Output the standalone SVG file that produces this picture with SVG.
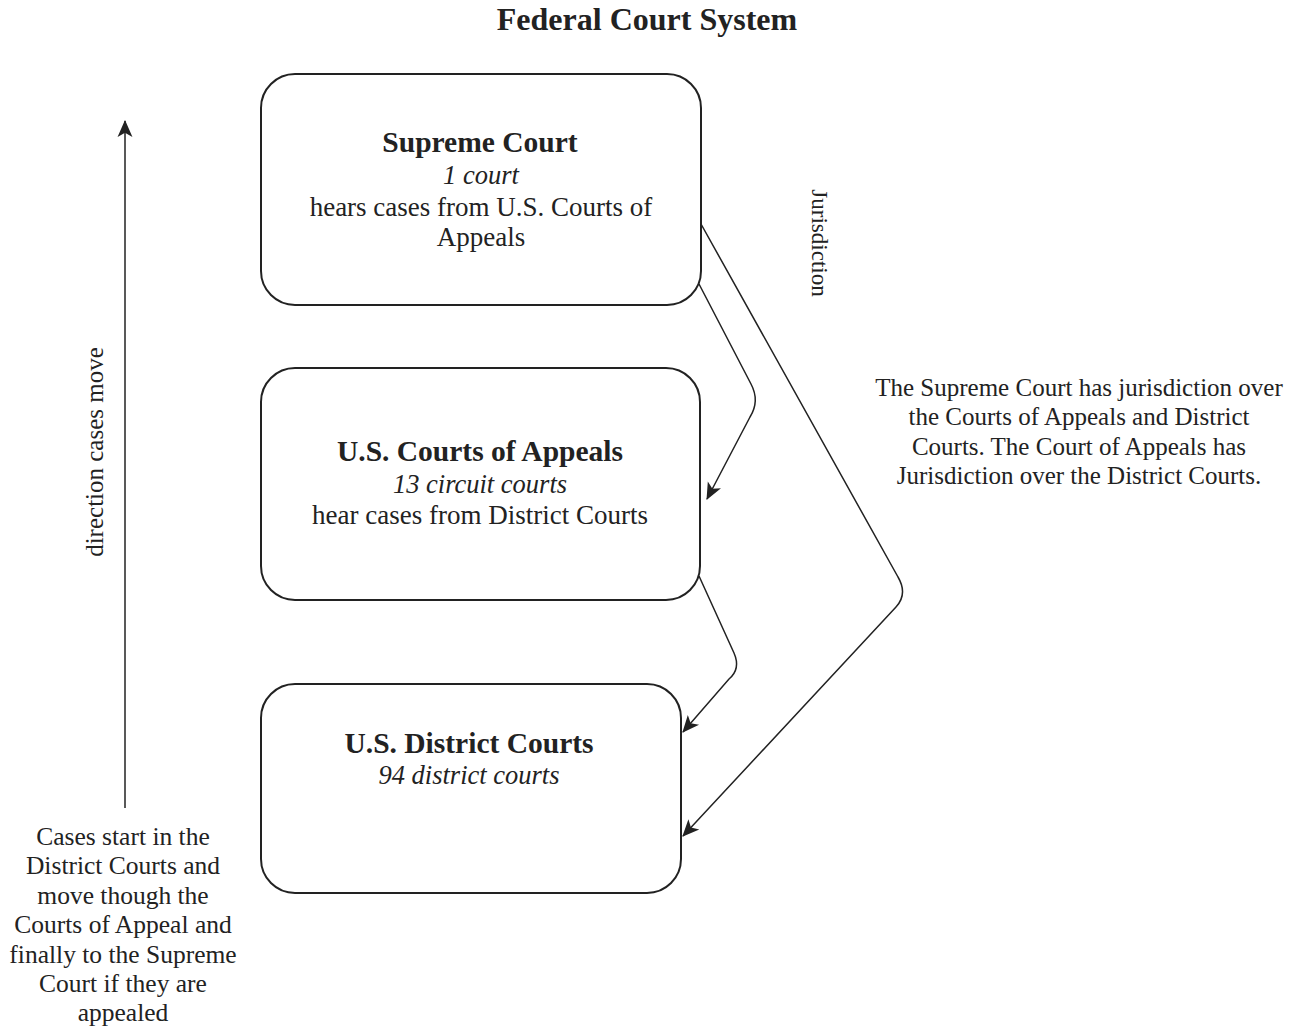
<svg xmlns="http://www.w3.org/2000/svg" width="1296" height="1029" viewBox="0 0 1296 1029">
<style>
text{font-family:"Liberation Serif","Times New Roman",serif;fill:#222;}
.box{fill:#fff;stroke:#222;stroke-width:2;}
.conn{fill:none;stroke:#222;stroke-width:1.5;}
.t{font-size:27px;text-anchor:middle;}
.b{font-size:29.5px;font-weight:bold;text-anchor:middle;}
.i{font-size:26.5px;font-style:italic;text-anchor:middle;}
.n{font-size:25px;text-anchor:middle;}
.l{font-size:25.5px;text-anchor:middle;}
</style>
<defs>
<marker id="ah2" viewBox="0 0 16 16" refX="15" refY="8" markerWidth="17" markerHeight="17" markerUnits="userSpaceOnUse" orient="auto">
<path d="M0,1 L16,8 L0,15 L4,8 Z" fill="#222"/>
</marker>
</defs>
<rect width="1296" height="1029" fill="#fff"/>
<text x="647" y="30" font-weight="bold" text-anchor="middle" style="font-size:32px">Federal Court System</text>

<g id="supreme-court">
<rect class="box" x="261" y="74" width="440" height="231" rx="34" ry="34"/>
<text class="b" x="480" y="152">Supreme Court</text>
<text class="i" x="481" y="184">1 court</text>
<text class="t" x="481" y="216">hears cases from U.S. Courts of</text>
<text class="t" x="481" y="246">Appeals</text>
</g>

<g id="courts-of-appeals">
<rect class="box" x="261" y="368" width="439" height="232" rx="34" ry="34"/>
<text class="b" x="480" y="461">U.S. Courts of Appeals</text>
<text class="i" x="480" y="493">13 circuit courts</text>
<text class="t" x="480" y="524">hear cases from District Courts</text>
</g>

<g id="district-courts">
<rect class="box" x="261" y="684" width="420" height="209" rx="34" ry="34"/>
<text class="b" x="469" y="753">U.S. District Courts</text>
<text class="i" x="469" y="784">94 district courts</text>
</g>

<g id="connectors">
<path class="conn" d="M699,284 L751,384 Q760,401 750,417 L707,499" marker-end="url(#ah2)"/>
<path class="conn" d="M699,576 L734,653 Q741,669 729,679 L683,732" marker-end="url(#ah2)"/>
<path class="conn" d="M701,224 L898,577 Q908,594 896,607 L683,836" marker-end="url(#ah2)"/>
<path class="conn" d="M125,808 L125,121" marker-end="url(#ah2)"/>
</g>

<g id="labels">
<text class="n" transform="translate(812,243) rotate(90)" style="font-size:23px">Jurisdiction</text>
<text class="n" transform="translate(103,452) rotate(-90)" style="font-size:25px">direction cases move</text>
<text class="n" x="1079" y="396">The Supreme Court has jurisdiction over</text>
<text class="n" x="1079" y="425">the Courts of Appeals and District</text>
<text class="n" x="1079" y="455">Courts. The Court of Appeals has</text>
<text class="n" x="1079" y="484">Jurisdiction over the District Courts.</text>
<text class="l" x="123" y="845">Cases start in the</text>
<text class="l" x="123" y="874">District Courts and</text>
<text class="l" x="123" y="904">move though the</text>
<text class="l" x="123" y="933">Courts of Appeal and</text>
<text class="l" x="123" y="963">finally to the Supreme</text>
<text class="l" x="123" y="992">Court if they are</text>
<text class="l" x="123" y="1021">appealed</text>
</g>
</svg>
